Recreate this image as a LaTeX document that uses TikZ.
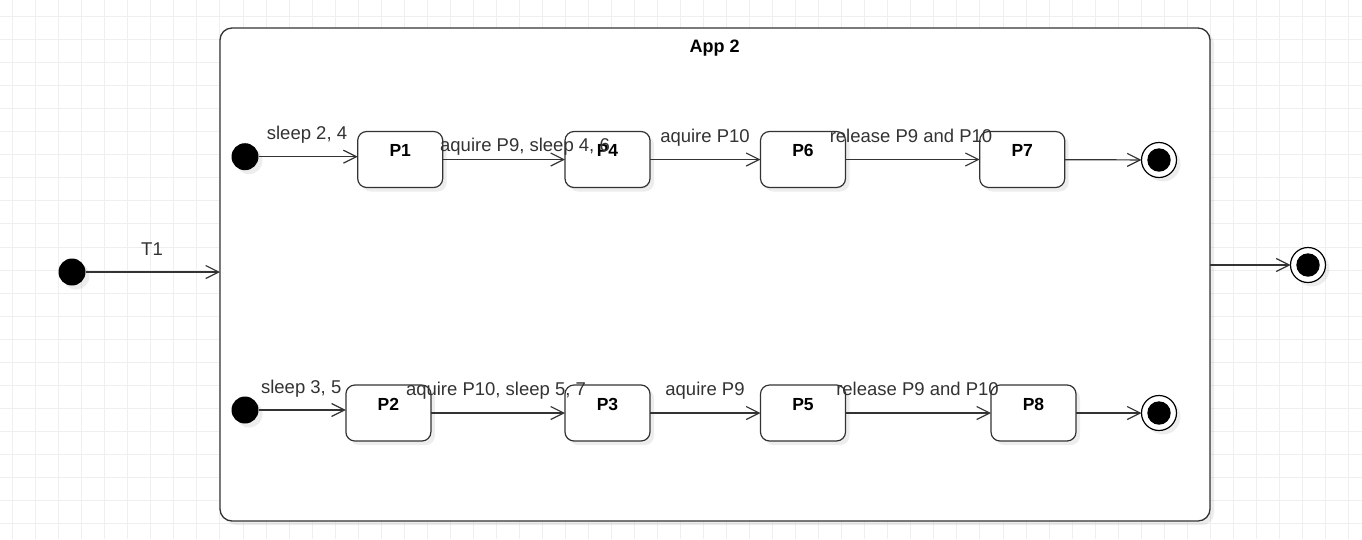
\documentclass[tikz,border=0pt]{standalone}
\usepackage{fontspec}
\setmainfont{Liberation Sans}
\usetikzlibrary{arrows.meta,shadows}
\definecolor{gridc}{HTML}{EFEFEF}
\definecolor{ln}{HTML}{333333}
\begin{document}
\begin{tikzpicture}[x=1pt,y=-1pt,
  every node/.style={inner sep=0pt, outer sep=0pt},
  shad/.style={drop shadow={shadow xshift=4pt,shadow yshift=-4pt,fill=black,opacity=0.07}},
  stbox/.style={draw=ln, line width=1.2pt, fill=white, rounded corners=9pt,
    minimum width=85pt, minimum height=56pt,
    font=\fontsize{17.5}{20}\selectfont\bfseries,
    text height=17pt, text depth=23pt, inner ysep=8pt, shad},
  initst/.style={circle, fill=black, minimum size=27pt, shad},
  finst/.style={circle, draw=black, line width=1.2pt, fill=white, minimum size=35pt, shad,
    path picture={\fill[black] (path picture bounding box.center) circle (11.7pt);}},
  container/.style={draw=ln, line width=1.3pt, fill=white, rounded corners=12pt,
    minimum width=990pt, minimum height=493pt, shad},
  lbl/.style={anchor=base, text=ln, font=\fontsize{18.5}{21}\selectfont},
  ttl/.style={anchor=base, text=black, font=\fontsize{18}{21}\selectfont\bfseries},
  arr/.style={draw=ln, line width=1.2pt, -{Straight Barb[length=13pt,width=13pt]}}
]
\useasboundingbox (0,0) rectangle (1362,539);
\fill[white] (0,0) rectangle (1362,539);
\foreach \i in {0,...,58} \draw[gridc, line width=1pt] ({12.7+\i*23.03},0) -- ({12.7+\i*23.03},539);
\foreach \j in {0,...,22} \draw[gridc, line width=1pt] (0,{16.7+\j*23.03}) -- (1362,{16.7+\j*23.03});

% container
\node[container] (app) at (715,274.5) {};
\node[ttl] (apptitle) at (714.7,52.7) {App 2};

% outer states
\node[initst] (d0) at (72,272) {};
\node[finst] (f0) at (1308,265) {};

% top row
\node[initst] (d1) at (245,156.7) {};
\node[stbox] (P1) at (400.2,159.5) {P1};
\node[stbox] (P4) at (607.5,159.5) {P4};
\node[stbox] (P6) at (803,159.5) {P6};
\node[stbox] (P7) at (1022.2,159.5) {P7};
\node[finst] (f1) at (1159,160) {};

% bottom row
\node[initst] (d2) at (245,410) {};
\node[stbox] (P2) at (388.4,413) {P2};
\node[stbox] (P3) at (607.5,413) {P3};
\node[stbox] (P5) at (803,413) {P5};
\node[stbox] (P8) at (1033.5,413) {P8};
\node[finst] (f2) at (1159,413) {};

% connectors
\draw[arr] (d0) -- (d0 -| app.west);
\draw[arr] (app.east |- f0) -- (f0);
\draw[arr] (d1) -- (d1 -| P1.west);
\draw[arr] (P1) -- (P4);
\draw[arr] (P4) -- (P6);
\draw[arr] (P6) -- (P7);
\draw[arr] (P7) -- (f1);
\draw[arr] (d2) -- (d2 -| P2.west);
\draw[arr] (P2) -- (P3);
\draw[arr] (P3) -- (P5);
\draw[arr] (P5) -- (P8);
\draw[arr] (P8) -- (f2);

% labels
\node[lbl] (lT1) at (152,255) {T1};
\node[lbl] (l1) at (307,139.3) {sleep 2, 4};
\node[lbl] (l2) at (525,151.7) {aquire P9, sleep 4, 6};
\node[lbl] (l3) at (705,142.7) {aquire P10};
\node[lbl] (l4) at (911,142.7) {release P9 and P10};
\node[lbl] (l5) at (301.2,393.3) {sleep 3, 5};
\node[lbl] (l6) at (496,395) {aquire P10, sleep 5, 7};
\node[lbl] (l7) at (705,395) {aquire P9};
\node[lbl] (l8) at (917.5,395) {release P9 and P10};
\end{tikzpicture}
\end{document}
